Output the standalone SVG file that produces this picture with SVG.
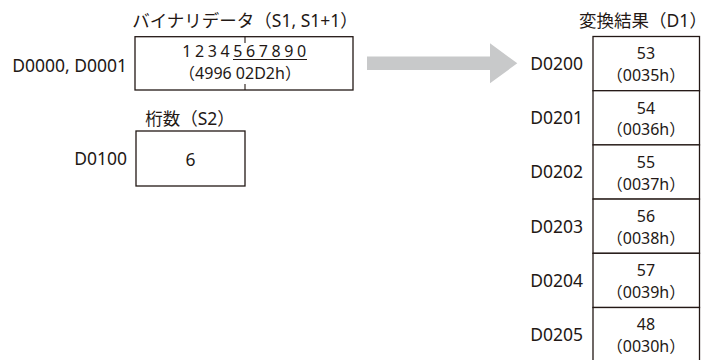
<svg xmlns="http://www.w3.org/2000/svg" width="709" height="360" viewBox="0 0 709 360">
<style>
text{font-family:"Noto Sans","Noto Sans CJK JP",sans-serif;fill:#231815;font-size:17.5px}
.c{text-anchor:middle}
.r{text-anchor:end}
.t{font-size:17.5px}
.s{font-size:16px}
.box{fill:#fff;stroke:#231815;stroke-width:1.3}
.ln{stroke:#231815;stroke-width:1.1;fill:none}
</style>
<rect width="709" height="360" fill="#fff"/>
<g id="connectors">
<path d="M367,56.5 H490 V43.3 L517.3,63.3 L490,83.3 V70 H367 Z" fill="#c8c9ca"/>
</g>
<g id="binary">
<text class="c t" x="245" y="27">バイナリデータ（S1, S1+1）</text>
<text class="r" x="127" y="72">D0000, D0001</text>
<rect class="box" x="135" y="36.7" width="218" height="53.3"/>
<line class="ln" x1="245" y1="36.7" x2="245" y2="43"/>
<line class="ln" x1="245" y1="84" x2="245" y2="90"/>
<text class="c s" x="246" y="56.5" letter-spacing="3.6">1234567890</text>
<text class="c s" x="240" y="79">（4996 02D2h）</text>
<line class="ln" x1="233" y1="59.5" x2="307" y2="59.5"/>
</g>
<g id="digits">
<text class="c t" x="190" y="125">桁数（S2）</text>
<text class="r" x="127" y="165">D0100</text>
<rect class="box" x="136" y="131" width="109" height="55"/>
<text class="c" x="190.5" y="166">6</text>
</g>
<g id="result">
<text class="c t" x="643" y="27">変換結果（D1）</text>
<rect class="box" x="593" y="36.5" width="106.5" height="54.2"/>
<rect class="box" x="593" y="90.7" width="106.5" height="54.2"/>
<rect class="box" x="593" y="144.9" width="106.5" height="54.2"/>
<rect class="box" x="593" y="199.1" width="106.5" height="54.2"/>
<rect class="box" x="593" y="253.3" width="106.5" height="54.2"/>
<rect class="box" x="593" y="307.5" width="106.5" height="54.2"/>
<text class="r" x="583" y="70">D0200</text>
<text class="r" x="583" y="124.2">D0201</text>
<text class="r" x="583" y="178.4">D0202</text>
<text class="r" x="583" y="232.6">D0203</text>
<text class="r" x="583" y="286.8">D0204</text>
<text class="r" x="583" y="341">D0205</text>
<text class="c s" x="646" y="59.3">53</text>
<text class="c s" x="646" y="81.2">（0035h）</text>
<text class="c s" x="646" y="113.5">54</text>
<text class="c s" x="646" y="135.4">（0036h）</text>
<text class="c s" x="646" y="167.7">55</text>
<text class="c s" x="646" y="189.6">（0037h）</text>
<text class="c s" x="646" y="221.9">56</text>
<text class="c s" x="646" y="243.8">（0038h）</text>
<text class="c s" x="646" y="276.1">57</text>
<text class="c s" x="646" y="298">（0039h）</text>
<text class="c s" x="646" y="330.3">48</text>
<text class="c s" x="646" y="352.2">（0030h）</text>
</g>
</svg>
